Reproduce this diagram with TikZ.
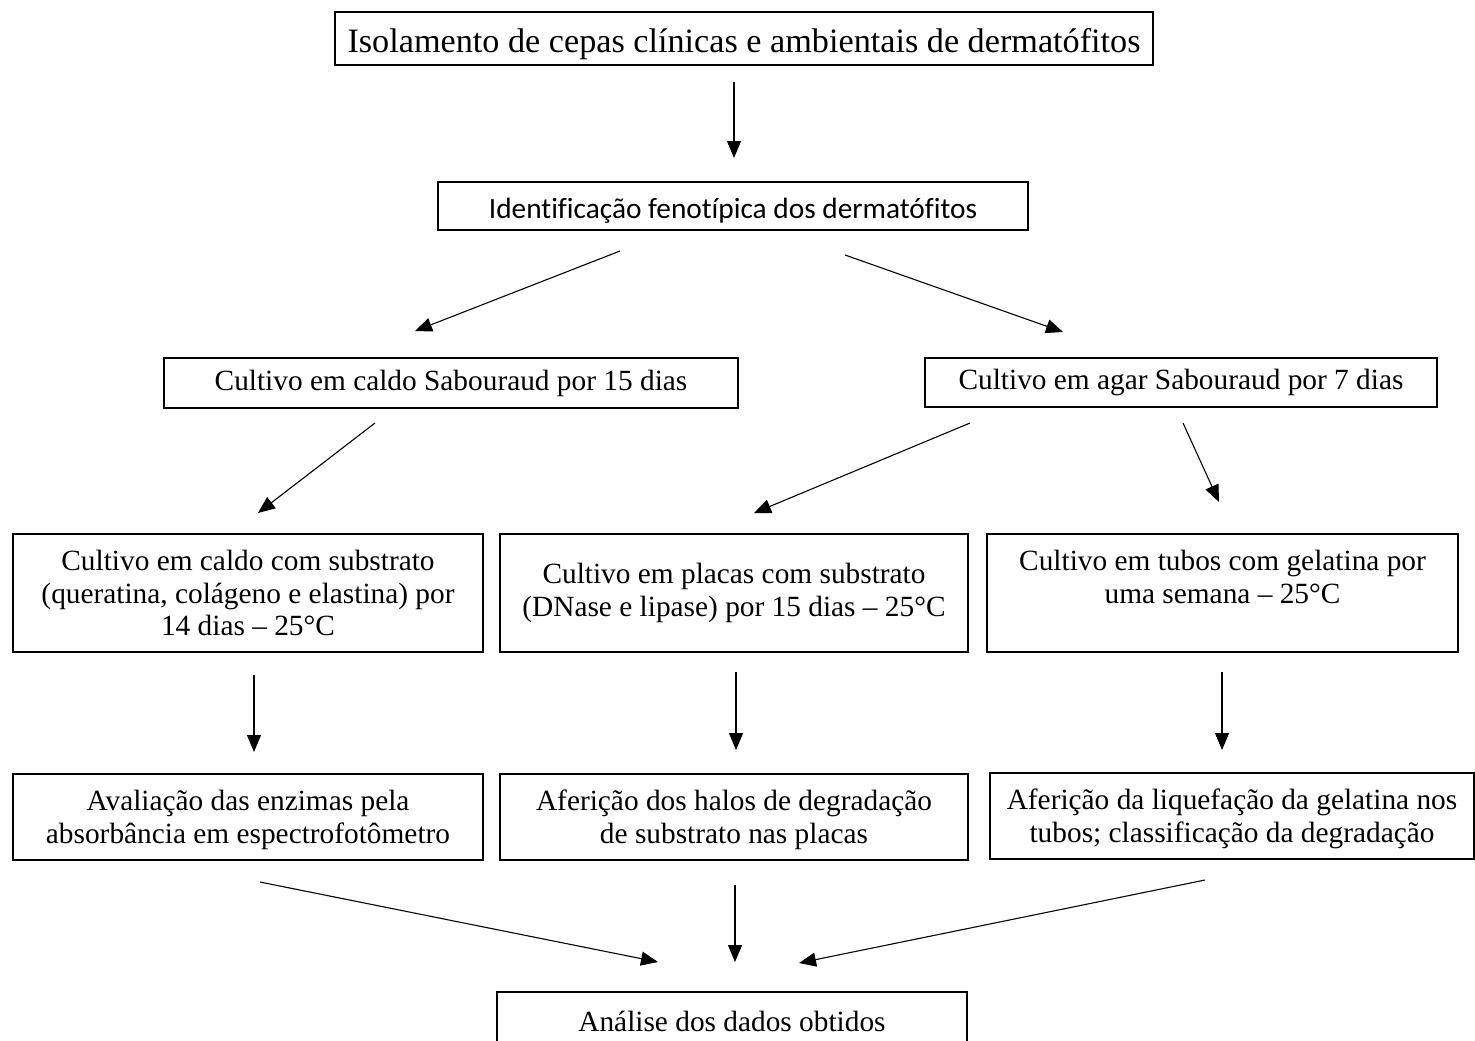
\documentclass[tikz,border=0pt]{standalone}
\usepackage{fontspec}
\setmainfont{Liberation Serif}
\newfontfamily\calibrifont[Ligatures=NoCommon]{Carlito}
\usetikzlibrary{arrows.meta}
\begin{document}
\begin{tikzpicture}[x=0.5pt,y=-0.5pt,
  box/.style={draw, line width=1pt, inner sep=0pt, align=center, font=\fontsize{14.67}{16.4}\selectfont},
  arr/.style={line width=0.55pt, -{Triangle[length=8.5pt,width=7pt]}}]
\useasboundingbox (0,0) rectangle (1475,1040);
\clip (0,0) rectangle (1475,1040);
% boxes
\node[box, minimum width=409pt, minimum height=26.5pt, font=\fontsize{17.1}{19}\selectfont] (b1) at (744,38.5) {\raisebox{-7pt}[0pt][0pt]{Isolamento de cepas clínicas e ambientais de dermatófitos}};
\node[box, minimum width=295pt, minimum height=24pt, font=\calibrifont\fontsize{14.67}{16}\selectfont] (b2) at (733,206) {\raisebox{-6pt}[0pt][0pt]{Identificação fenotípica dos dermatófitos}};
\node[box, minimum width=287pt, minimum height=25pt] (b3) at (451,383) {Cultivo em caldo Sabouraud por 15 dias};
\node[box, minimum width=256pt, minimum height=24.5pt] (b4) at (1181,382.5) {Cultivo em agar Sabouraud por 7 dias};
\node[box, minimum width=235pt, minimum height=59pt] (b5) at (248,593) {Cultivo em caldo com substrato\\(queratina, colágeno e elastina) por\\14 dias – 25°C};
\node[box, minimum width=234pt, minimum height=59pt] (b6) at (734,593) {Cultivo em placas com substrato\\(DNase e lipase) por 15 dias – 25°C};
\node[box, minimum width=235.5pt, minimum height=59pt] (b7) at (1222.5,593) {Cultivo em tubos com gelatina por\\uma semana – 25°C\\[-5pt]\strut};
\node[box, minimum width=235pt, minimum height=43pt] (b8) at (248,817) {\rule{0pt}{13pt}Avaliação das enzimas pela\\absorbância em espectrofotômetro};
\node[box, minimum width=234pt, minimum height=43pt] (b9) at (734,817) {\rule{0pt}{13pt}Aferição dos halos de degradação\\de substrato nas placas};
\node[box, minimum width=242pt, minimum height=43pt] (b10) at (1232,816) {\rule{0pt}{13pt}Aferição da liquefação da gelatina nos\\tubos; classificação da degradação};
\node[box, minimum width=235pt, minimum height=29pt] (b11) at (732,1021) {Análise dos dados obtidos};
% connector end points
\coordinate (s1) at (734,82);   \coordinate (e1) at (734,158);
\coordinate (s2) at (620,251);  \coordinate (e2) at (415,331);
\coordinate (s3) at (845,255);  \coordinate (e3) at (1063,332);
\coordinate (s4) at (375,423);  \coordinate (e4) at (258,513);
\coordinate (s5) at (970,423);  \coordinate (e5) at (754,513);
\coordinate (s6) at (1183,423); \coordinate (e6) at (1219,502);
\coordinate (s7) at (254,675);  \coordinate (e7) at (254,752);
\coordinate (s8) at (736,672);  \coordinate (e8) at (736,750);
\coordinate (s9) at (1222,672); \coordinate (e9) at (1222,750);
\coordinate (s10) at (260,882); \coordinate (e10) at (658,962);
\coordinate (s11) at (735,885); \coordinate (e11) at (735,962);
\coordinate (s12) at (1205,880); \coordinate (e12) at (799,963);
\foreach \i in {1,...,12} {\draw[arr] (s\i) -- (e\i);}
\end{tikzpicture}
\end{document}
